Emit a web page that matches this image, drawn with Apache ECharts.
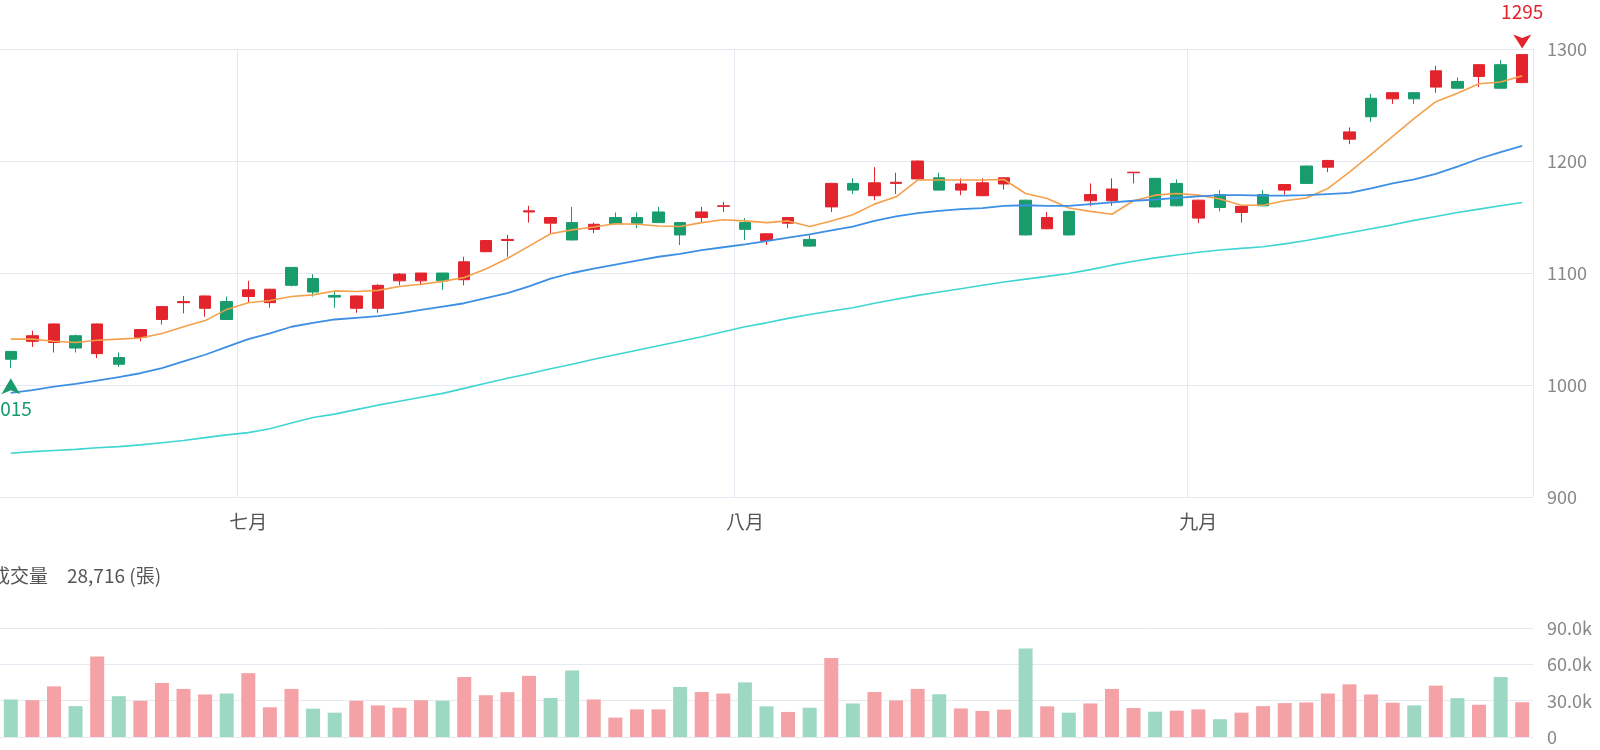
<!DOCTYPE html>
<html>
<head>
<meta charset="utf-8">
<script src="https://cdn.jsdelivr.net/npm/echarts@6/dist/echarts.min.js"></script>
<style>
  html, body { margin: 0; padding: 0; background: #fff; }
  #main { width: 1600px; height: 750px; }
</style>
</head>
<body>
<div id="main"></div>
<script>
// trading days, 2025-06-16 .. 2025-09-22
const dates = [
  '2025-06-16', '2025-06-17', '2025-06-18', '2025-06-19', '2025-06-20', '2025-06-23', '2025-06-24', '2025-06-25', '2025-06-26', '2025-06-27', '2025-06-30',
  '2025-07-01', '2025-07-02', '2025-07-03', '2025-07-04', '2025-07-07', '2025-07-08', '2025-07-09', '2025-07-10', '2025-07-11', '2025-07-14', '2025-07-15',
  '2025-07-16', '2025-07-17', '2025-07-18', '2025-07-21', '2025-07-22', '2025-07-23', '2025-07-24', '2025-07-25', '2025-07-28', '2025-07-29', '2025-07-30', '2025-07-31',
  '2025-08-01', '2025-08-04', '2025-08-05', '2025-08-06', '2025-08-07', '2025-08-08', '2025-08-11', '2025-08-12', '2025-08-13', '2025-08-14', '2025-08-15',
  '2025-08-18', '2025-08-19', '2025-08-20', '2025-08-21', '2025-08-22', '2025-08-25', '2025-08-26', '2025-08-27', '2025-08-28', '2025-08-29',
  '2025-09-01', '2025-09-02', '2025-09-03', '2025-09-04', '2025-09-05', '2025-09-08', '2025-09-09', '2025-09-10', '2025-09-11', '2025-09-12',
  '2025-09-15', '2025-09-16', '2025-09-17', '2025-09-18', '2025-09-19', '2025-09-22'
];

// [open, close, low, high]
const candles = [
  [1030, 1023, 1015, 1030], [1039, 1044, 1034, 1048.5], [1038, 1054.5, 1029, 1055], [1044, 1033, 1029, 1045],
  [1028, 1054.5, 1024, 1055], [1024.5, 1018.5, 1016, 1029], [1042.5, 1049.5, 1039, 1050], [1058.5, 1070, 1054, 1070.5],
  [1073.5, 1074.5, 1064, 1079.5], [1068.5, 1079.5, 1061, 1080], [1074.5, 1058.5, 1058, 1079], [1079, 1085, 1074, 1093],
  [1073.5, 1085.5, 1069, 1086], [1105, 1089, 1088, 1105], [1095, 1083, 1079, 1099], [1080, 1078.5, 1069, 1083],
  [1068.5, 1079.5, 1064.5, 1080], [1068.5, 1089, 1064.5, 1090], [1093, 1099, 1089, 1100], [1093, 1100, 1089, 1100],
  [1100, 1093, 1085, 1100], [1094, 1110, 1089, 1114.5], [1119, 1129, 1118.5, 1129.5], [1129, 1130, 1114.5, 1134],
  [1154.5, 1155.5, 1145, 1160], [1144.5, 1149.5, 1135.5, 1150], [1145, 1129.5, 1129, 1159], [1139, 1143.5, 1135.5, 1145],
  [1149.5, 1144, 1143.5, 1154], [1149.5, 1144.5, 1140, 1154], [1154.5, 1145, 1144.5, 1159], [1145, 1134, 1125, 1145],
  [1149.5, 1154.5, 1145, 1159], [1159.5, 1160, 1154.5, 1163.5], [1145, 1139, 1129.5, 1149], [1129, 1135, 1125, 1135.5],
  [1144.5, 1149.5, 1140, 1150], [1130, 1124, 1123.5, 1134], [1159, 1180, 1154.5, 1180.5], [1180, 1174, 1170.5, 1184.5],
  [1169, 1180.5, 1165, 1194.5], [1180, 1181, 1170.5, 1189.5], [1184, 1200, 1183.5, 1200.5], [1185, 1174, 1173.5, 1189.5],
  [1174, 1179.5, 1169.5, 1184.5], [1169, 1180.5, 1168.5, 1184.5], [1179.5, 1185, 1174.5, 1185.5], [1165, 1134, 1133.5, 1165.5],
  [1139.5, 1149.5, 1139, 1154.5], [1155, 1134, 1133.5, 1155.5], [1164.5, 1170, 1160, 1180], [1164.5, 1175, 1160, 1184.5],
  [1189.5, 1190, 1180, 1190], [1184.5, 1159, 1158.5, 1185], [1180, 1160, 1159.5, 1183.5], [1149, 1165, 1144.5, 1165.5],
  [1170, 1158.5, 1155, 1174], [1154, 1159.5, 1145, 1160], [1170, 1160, 1159.5, 1174], [1174, 1179, 1170, 1179.5],
  [1195.5, 1180, 1179.5, 1196], [1194.5, 1200.5, 1190, 1201], [1219.5, 1226, 1215, 1230], [1256, 1239.5, 1235, 1260],
  [1255.5, 1261, 1251, 1261.5], [1261, 1255.5, 1251, 1261.5], [1266, 1280.5, 1261, 1285], [1271, 1265, 1264.5, 1274.5],
  [1275.5, 1286, 1266, 1286.5], [1286, 1265, 1264.5, 1290], [1270, 1295, 1269.5, 1295]
];

const ma5 = [
  1041, 1041, 1039, 1038, 1040, 1041, 1042, 1046, 1052, 1057.5, 1067.5, 1073.5, 1075.5, 1079, 1080.5, 1084,
  1083.5, 1084.5, 1088, 1090, 1092.5, 1096, 1103.5, 1113, 1124, 1135, 1138.5, 1141, 1144, 1143.5, 1142, 1141.5,
  1145, 1147.5, 1146.5, 1145, 1146.5, 1141.5, 1146.5, 1152, 1161.5, 1168, 1183, 1183, 1183, 1183, 1183.5, 1171,
  1166.5, 1158, 1155, 1152.5, 1164.5, 1169.5, 1171, 1169.5, 1166, 1160.5, 1160.5, 1164.5, 1167, 1175.5, 1190, 1206,
  1222, 1238, 1253, 1260.5, 1269, 1270.5, 1276
];

const ma20 = [
  993, 995.5, 998.5, 1001, 1004, 1007, 1010.5, 1015, 1021, 1027, 1034, 1041, 1046, 1052, 1055.5, 1058.5,
  1060, 1061.5, 1064, 1067, 1070, 1073, 1077.5, 1082, 1088, 1095, 1100, 1104, 1107.5, 1111, 1114.5, 1117,
  1120.5, 1123, 1125.5, 1128.5, 1131.5, 1134.5, 1138, 1141.5, 1146.5, 1150.5, 1153.5, 1155.5, 1157, 1158, 1160, 1160.5,
  1160, 1160, 1161.5, 1163, 1164.5, 1165.5, 1167, 1168.5, 1169.5, 1169.5, 1169, 1169, 1169.5, 1170.5, 1171.5, 1175.5,
  1180, 1183.5, 1188.5, 1195, 1202, 1208, 1213.5
];

const ma60 = [
  939, 940.5, 941.5, 942.5, 944, 945, 946.5, 948.5, 950.5, 953, 955.5, 957.5, 961, 966, 971, 974,
  978, 982, 985.5, 989, 992.5, 997, 1001.5, 1006, 1010, 1014.5, 1018.5, 1023, 1027, 1031, 1035, 1039,
  1043, 1047.5, 1052, 1055.5, 1059.5, 1063, 1066, 1069, 1073, 1076.5, 1080, 1083, 1086, 1089, 1092, 1094.5,
  1097, 1099.5, 1103, 1107, 1110.5, 1113.5, 1116, 1118.5, 1120.5, 1122, 1123.5, 1126, 1129, 1132.5, 1136, 1139.5,
  1143, 1147, 1150.5, 1154, 1157, 1160, 1163
];

// 成交量 (張)
const volumes = [
  31000, 30400, 41800, 25500, 66500, 33700, 29900, 44600, 39700, 35100,
  35900, 52700, 24500, 39700, 23400, 20100, 29900, 26100, 24200, 30400,
  29900, 49500, 34500, 37000, 50500, 32300, 54900, 31000, 16000, 22800,
  22800, 41300, 37200, 35900, 45100, 25300, 20700, 24200, 65200, 27700,
  37200, 30200, 39700, 35300, 23600, 21500, 22600, 73100, 25300, 20100,
  27700, 39700, 23900, 20900, 21700, 22800, 14700, 20100, 25500, 28000,
  28500, 35900, 43500, 35100, 28300, 26100, 42400, 32100, 26600, 49500,
  28716
];

const monthNames = { '07': '七月', '08': '八月', '09': '九月' };

const UP = '#e3242d';
const DOWN = '#189c6c';
const UP_VOL = '#f4a2a6';
const DOWN_VOL = '#9dd8c2';
const GRID_LINE = '#e6e8f2';
const FONT = '"Noto Sans CJK TC", "Noto Sans", sans-serif';

function isMonthStart(index) {
  return index > 0 && dates[index].slice(5, 7) !== dates[index - 1].slice(5, 7);
}

// volume colour follows the change against the previous close
const volumeData = volumes.map(function (v, i) {
  const ref = i === 0 ? candles[0][0] : candles[i - 1][1];
  const up = candles[i][1] >= ref;
  return { value: v, itemStyle: { color: up ? UP_VOL : DOWN_VOL } };
});

const lastVolume = volumes[volumes.length - 1].toLocaleString('en-US');

const chart = echarts.init(document.getElementById('main'));

chart.setOption({
  animation: false,
  textStyle: { fontFamily: FONT },
  graphic: [
    {
      type: 'text',
      left: -9,
      top: 566,
      style: { text: '成交量', fontSize: 19, fill: '#555', fontFamily: FONT }
    },
    {
      type: 'text',
      left: 67,
      top: 566,
      style: { text: lastVolume + ' (張)', fontSize: 19, fill: '#555', fontFamily: FONT }
    }
  ],
  grid: [
    { left: 0, right: 67, top: 49, bottom: 253 },
    { left: 0, right: 67, top: 628, bottom: 13 }
  ],
  xAxis: [
    {
      type: 'category',
      data: dates,
      gridIndex: 0,
      boundaryGap: true,
      axisLine: { show: true, lineStyle: { color: GRID_LINE } },
      axisTick: { show: false },
      axisLabel: {
        interval: function (i) { return isMonthStart(i); },
        formatter: function (v) { return monthNames[v.slice(5, 7)] || ''; },
        color: '#555',
        fontSize: 19,
        margin: 15
      },
      splitLine: {
        show: true,
        interval: function (i) { return isMonthStart(i); },
        lineStyle: { color: GRID_LINE }
      }
    },
    {
      type: 'category',
      data: dates,
      gridIndex: 1,
      boundaryGap: true,
      axisLine: { show: false },
      axisTick: { show: false },
      axisLabel: { show: false },
      splitLine: { show: false }
    }
  ],
  yAxis: [
    {
      type: 'value',
      gridIndex: 0,
      position: 'right',
      min: 900,
      max: 1300,
      interval: 100,
      axisLine: { show: true, lineStyle: { color: GRID_LINE } },
      axisTick: { show: false },
      axisLabel: { color: '#888', fontSize: 18, margin: 14, formatter: function (v) { return String(v); } },
      splitLine: { lineStyle: { color: GRID_LINE } }
    },
    {
      type: 'value',
      gridIndex: 1,
      position: 'right',
      min: 0,
      max: 90000,
      interval: 30000,
      axisLine: { show: false },
      axisTick: { show: false },
      axisLabel: {
        color: '#888',
        fontSize: 18,
        margin: 14,
        formatter: function (v) { return v === 0 ? '0' : (v / 1000).toFixed(1) + 'k'; }
      },
      splitLine: { lineStyle: { color: GRID_LINE } }
    }
  ],
  series: [
    {
      name: 'K',
      type: 'candlestick',
      data: candles,
      barWidth: 12,
      itemStyle: { color: UP, color0: DOWN, borderColor: UP, borderColor0: DOWN, borderWidth: 1 },
      markPoint: {
        data: [
          {
            type: 'max', valueDim: 'highest',
            symbol: 'path://M0,1L1,0L0,0.25L-1,0Z', symbolSize: [18, 14], symbolOffset: [0, -13],
            itemStyle: { color: UP },
            label: { position: 'top', distance: 13, color: UP, fontSize: 19 }
          },
          {
            type: 'min', valueDim: 'lowest',
            symbol: 'arrow', symbolSize: [14, 16], symbolOffset: [0, 10],
            itemStyle: { color: DOWN },
            label: { position: 'bottom', distance: 5, color: DOWN, fontSize: 19 }
          }
        ]
      }
    },
    { name: 'MA5', type: 'line', data: ma5, symbol: 'none', lineStyle: { color: '#f5a04b', width: 1.6 }, z: 3 },
    { name: 'MA20', type: 'line', data: ma20, symbol: 'none', lineStyle: { color: '#3d8fe4', width: 1.8 }, z: 3 },
    { name: 'MA60', type: 'line', data: ma60, symbol: 'none', lineStyle: { color: '#3fd6d2', width: 1.6 }, z: 3 },
    { name: 'Volume', type: 'bar', xAxisIndex: 1, yAxisIndex: 1, data: volumeData, barWidth: 14 }
  ]
});
</script>
</body>
</html>
